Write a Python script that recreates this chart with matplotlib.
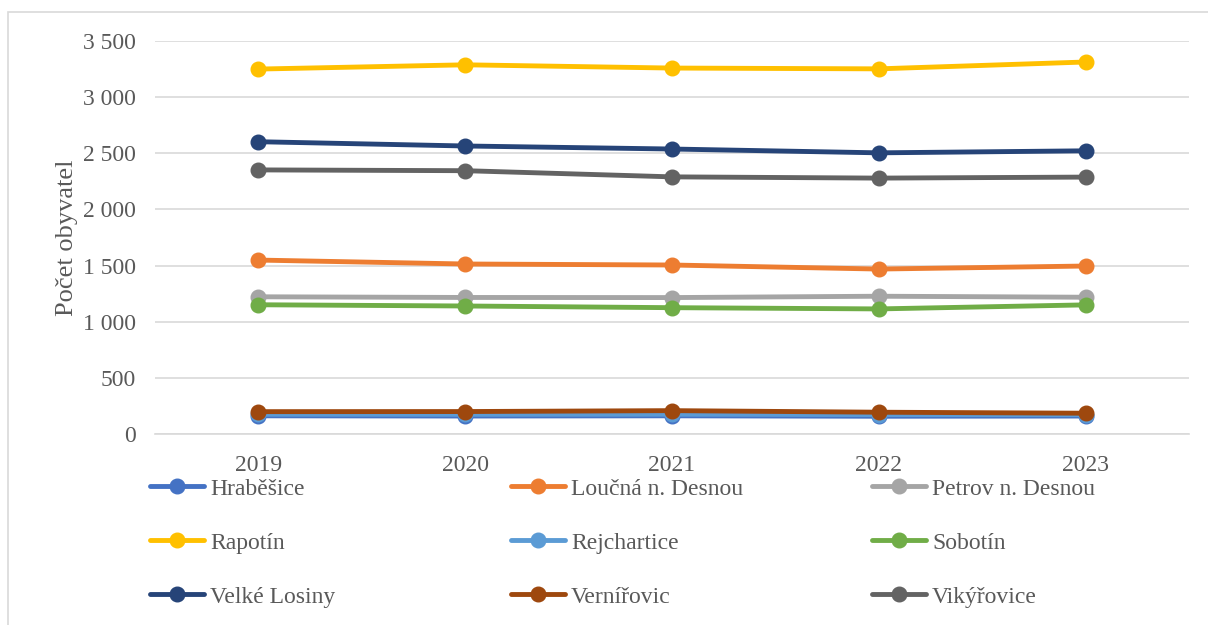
import matplotlib
matplotlib.use("Agg")
import matplotlib.pyplot as plt
from matplotlib.patches import Rectangle
from matplotlib.ticker import FuncFormatter

plt.rcParams["font.family"] = ["Liberation Serif", "DejaVu Serif"]

years = ["2019", "2020", "2021", "2022", "2023"]

names = ["Hraběšice", "Loučná n. Desnou", "Petrov n. Desnou",
         "Rapotín", "Rejchartice", "Sobotín",
         "Velké Losiny", "Vernířovic", "Vikýřovice"]

hrabesice = [162, 160, 162, 158, 160]
loucna = [1549, 1514, 1505, 1469, 1496]
petrov = [1222, 1216, 1215, 1227, 1218]
rapotin = [3250, 3288, 3259, 3252, 3313]
rejchartice = [176, 175, 176, 173, 172]
sobotin = [1151, 1140, 1125, 1114, 1150]
velke_losiny = [2603, 2565, 2538, 2504, 2522]
vernirovic = [199, 200, 208, 194, 185]
vikyrovice = [2352, 2345, 2290, 2279, 2288]

series = [hrabesice, loucna, petrov, rapotin, rejchartice,
          sobotin, velke_losiny, vernirovic, vikyrovice]
colors = ["#4472C4", "#ED7D31", "#A5A5A5", "#FFC000", "#5B9BD5",
          "#70AD47", "#264478", "#9E480E", "#636363"]

fig = plt.figure(figsize=(12.08, 6.25), dpi=100)
ax = fig.add_axes([155 / 1208, 1 - 434 / 625, 1034 / 1208, 393 / 625])

x = list(range(len(years)))
handles = []
for vals, name, c in zip(series, names, colors):
    h, = ax.plot(x, vals, color=c, lw=3.5, marker="o", ms=10.5,
                 solid_capstyle="round", label=name)
    handles.append(h)

ax.set_xlim(-0.5, len(years) - 0.5)
ax.set_ylim(0, 3500)
ax.set_yticks(range(0, 3501, 500))
ax.yaxis.set_major_formatter(
    FuncFormatter(lambda v, p: f"{int(v):,}".replace(",", " ")))
ax.set_xticks(x)
ax.set_xticklabels(years)
ax.tick_params(axis="both", length=0, labelsize=17, colors="#595959")
ax.tick_params(axis="y", pad=14)
ax.tick_params(axis="x", pad=15)
ax.grid(axis="y", color="#D9D9D9", lw=1.2)
ax.set_axisbelow(True)
for s in ["top", "right", "left"]:
    ax.spines[s].set_visible(False)
ax.spines["bottom"].set_color("#D9D9D9")
ax.spines["bottom"].set_linewidth(1.2)
ax.set_ylabel("Počet obyvatel", fontsize=19, color="#595959", labelpad=3)

# legend: three columns placed by hand
col_x = [150 / 1208, 511 / 1208, 872 / 1208]
for i, cx in enumerate(col_x):
    hs = handles[i::3]
    leg = fig.legend(hs, [h.get_label() for h in hs], loc="upper left",
                     bbox_to_anchor=(cx, 1 - 478 / 625), frameon=False,
                     fontsize=17, handlelength=2.3, handletextpad=0.25,
                     labelspacing=1.38, borderpad=0, borderaxespad=0)
    for t in leg.get_texts():
        t.set_color("#595959")

fig.add_artist(Rectangle((8 / 1208, -0.1), 1.2, 1.1 - 12 / 625,
                         transform=fig.transFigure, fill=False,
                         edgecolor="#D9D9D9", lw=1.2))

fig.savefig("out.png", dpi=100)
